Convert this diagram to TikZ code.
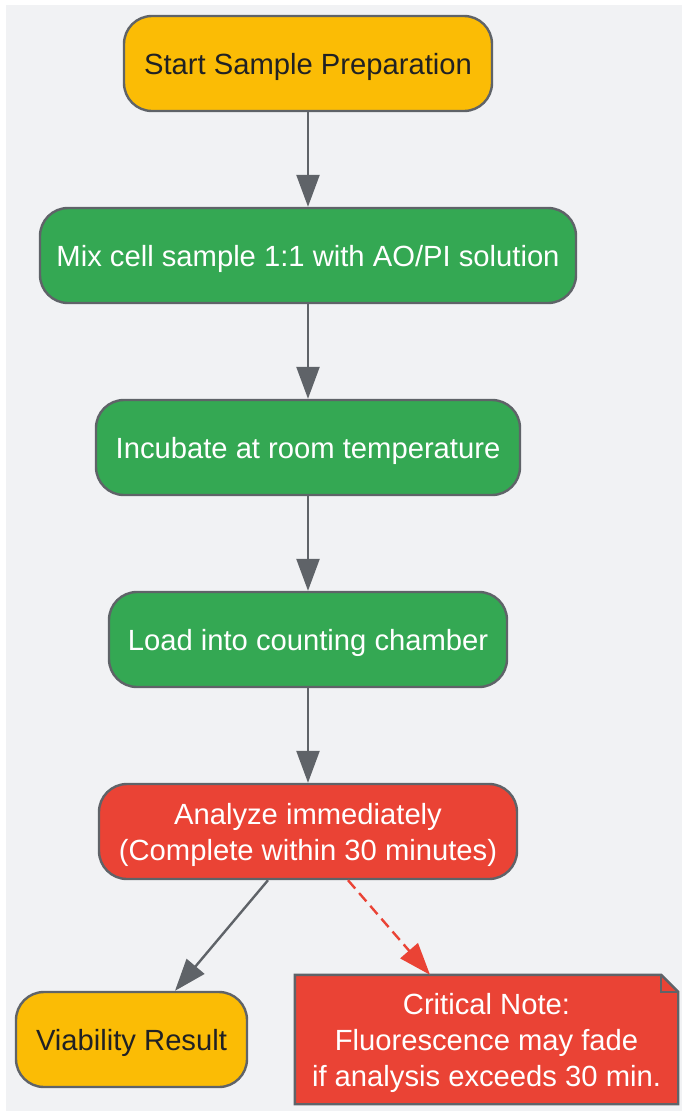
\documentclass[tikz,border=0pt]{standalone}
\usepackage{fontspec}
\setmainfont{Liberation Sans}
\usetikzlibrary{arrows.meta,calc}
\definecolor{bgc}{HTML}{F1F2F4}
\definecolor{yel}{HTML}{FBBC05}
\definecolor{grn}{HTML}{34A853}
\definecolor{redc}{HTML}{EA4335}
\definecolor{edgec}{HTML}{5F6368}
\definecolor{darktxt}{HTML}{202124}
\begin{document}
\begin{tikzpicture}[x=1pt,y=-1pt,
  txt/.style={font=\fontsize{29.2}{36}\selectfont,text height=28pt,text depth=6pt},
  box/.style={txt,draw=edgec,line width=2.4pt,rounded corners=28pt,minimum height=95pt,inner sep=0pt,align=center},
  twoline/.style={text height=64pt},
  startbox/.style={box,fill=yel,text=darktxt},
  stepbox/.style={box,fill=grn,text=white},
  alertbox/.style={box,fill=redc,text=white},
  flow/.style={draw=edgec,line width=2.4pt,-{Triangle[length=32pt,width=23pt]}},
  warn/.style={draw=redc,line width=2.4pt,dash pattern=on 11pt off 6pt,-{Triangle[length=32pt,width=23pt]}}]
\useasboundingbox (0,0) rectangle (682,1111);
\fill[white] (0,0) rectangle (682,1111);
\fill[bgc] (6,5) rectangle (682,1111);
\node[startbox,minimum width=368pt] (start) at (308,63.5) {Start Sample Preparation};
\node[stepbox,minimum width=536pt] (mix) at (308,255.5) {Mix cell sample 1:1 with AO/PI solution};
\node[stepbox,minimum width=424pt] (inc) at (308,447.5) {Incubate at room temperature};
\node[stepbox,minimum width=398pt] (load) at (308,639.5) {Load into counting chamber};
\node[alertbox,twoline,minimum width=418pt] (ana) at (308,831.5) {Analyze immediately\\(Complete within 30 minutes)};
\node[startbox,minimum width=231pt] (res) at (131.5,1039.5) {Viability Result};
% note
\node[minimum width=383pt,minimum height=129pt,inner sep=0pt] (note) at (486.5,1039.5) {};
\filldraw[fill=redc,draw=edgec,line width=2.4pt,line join=miter]
  (note.south west) -- (note.north west) -- ($(note.north east)+(-17,0)$) -- ($(note.north east)+(0,17)$) -- (note.south east) -- cycle;
\draw[edgec,line width=2.4pt] ($(note.north east)+(-17,0)$) -- ($(note.north east)+(-17,17)$) -- ($(note.north east)+(0,17)$);
\node[txt,inner sep=0pt,align=center,text=white,text height=100pt] (notetext) at (note.center) {Critical Note:\\Fluorescence may fade\\if analysis exceeds 30 min.};
\coordinate (a1) at ($(ana.south)+(-40,0)$);
\coordinate (a2) at ($(ana.south)+(40,0)$);
\coordinate (r1) at ($(res.north)+(43.5,0)$);
\coordinate (n1) at ($(note.north)+(-56.5,0)$);
\draw[flow] (start) -- (mix);
\draw[flow] (mix) -- (inc);
\draw[flow] (inc) -- (load);
\draw[flow] (load) -- (ana);
\draw[flow] (a1) -- (r1);
\draw[warn] (a2) -- (n1);
\end{tikzpicture}
\end{document}
